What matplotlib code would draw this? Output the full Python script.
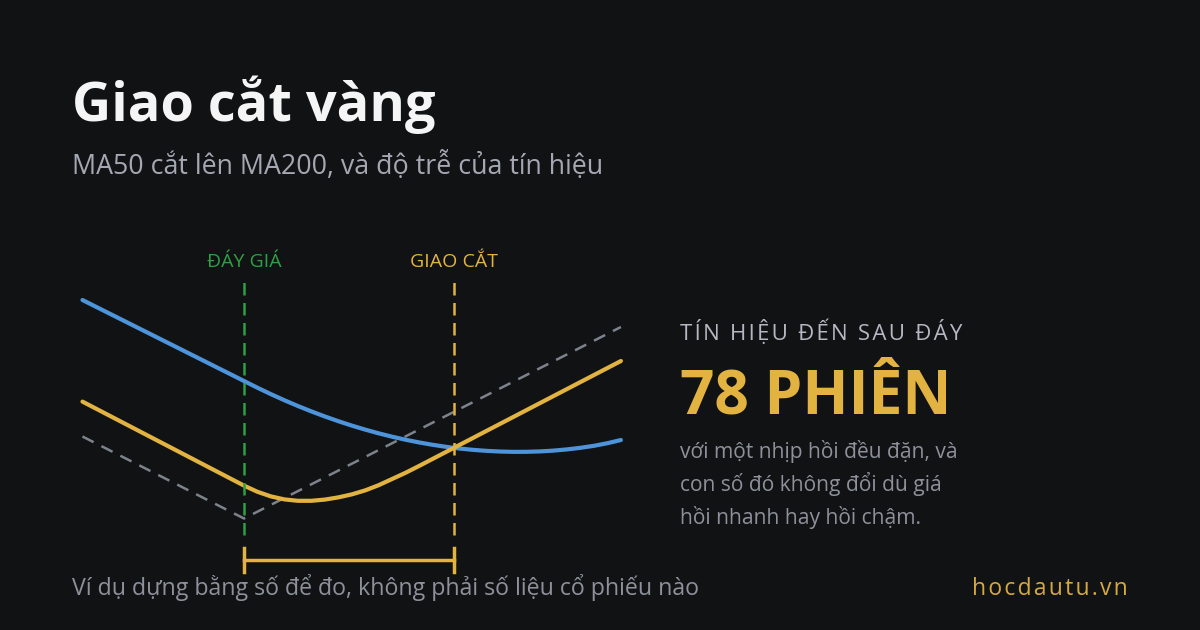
import matplotlib.pyplot as plt

plt.rcParams["font.family"] = ["Open Sans", "DejaVu Sans"]

BG = "#111214"
BLUE = "#4d94db"
GOLD = "#e3b341"
GREEN = "#2ea043"
GRAY = "#7d838c"

# phiên (0 = đáy giá), giá trị minh hoạ
sessions = [-60, -55, -50, -45, -40, -35, -30, -25, -20, -15, -10, -5, 0, 5, 10, 15, 20, 25, 30,
            35, 40, 45, 50, 55, 60, 65, 70, 75, 80, 85, 90, 95, 100, 105, 110, 115, 120, 125,
            130, 135, 140]
ma200 = [160, 156.63, 153.25, 149.88, 146.5, 143.13, 139.75, 136.38, 133, 129.63, 126.25,
         122.88, 119.5, 116.13, 112.92, 109.88, 107.01, 104.31, 101.78, 99.42, 97.22, 95.2,
         93.34, 91.66, 90.14, 88.79, 87.61, 86.6, 85.75, 85.08, 84.58, 84.24, 84.07, 84.1,
         84.3, 84.7, 85.3, 86.1, 87.1, 88.4, 90.0]
ma50 = [109.2, 105.7, 102.2, 98.7, 95.2, 91.7, 88.2, 84.7, 81.2, 77.7, 74.2, 70.7, 67.2, 64.1,
        61.8, 60.3, 59.6, 59.6, 60.2, 61.3, 62.8, 64.8, 67.4, 70.5, 73.6, 77.0, 80.5, 84.0,
        87.5, 91.0, 94.5, 98.0, 101.5, 105.0, 108.5, 112.0, 115.5, 119.0, 122.5, 126.0, 129.5]
price_x = [-60, 0, 140]
price_y = [91.75, 50.75, 146.5]

bottom_day = 0
cross_day = 78

HAIR = "\u200a"


def spaced(s):
    return HAIR.join(s)


fig = plt.figure(figsize=(12, 6.3), dpi=100, facecolor=BG)
ax = fig.add_axes([0, 0, 1, 1])
ax.set_facecolor(BG)
ax.set_xlim(-244 / 2.6923, (1200 - 244) / 2.6923)
ax.set_ylim(-5, 310)
ax.axis("off")

ax.plot(price_x, price_y, color=GRAY, lw=1.8, dashes=(5, 3.5))
ax.plot(sessions, ma200, color=BLUE, lw=3, solid_capstyle="round")
ax.plot(sessions, ma50, color=GOLD, lw=3, solid_capstyle="round")

ax.plot([bottom_day, bottom_day], [42.5, 171.5], color=GREEN, lw=1.8, dashes=(5, 3))
ax.plot([cross_day, cross_day], [42.5, 171.5], color=GOLD, lw=1.8, dashes=(5, 3))
ax.text(bottom_day, 179, "ĐÁY GIÁ", color=GREEN, fontsize=14, ha="center", va="center")
ax.text(cross_day, 179, "GIAO CẮT", color=GOLD, fontsize=14, ha="center", va="center")

# khoảng trễ
ax.plot([bottom_day, cross_day], [30, 30], color=GOLD, lw=2.5)
ax.plot([bottom_day, bottom_day], [24, 36], color=GOLD, lw=2.5)
ax.plot([cross_day, cross_day], [24, 36], color=GOLD, lw=2.5)

fig.text(72 / 1200, 1 - 121 / 630, "Giao cắt vàng", color="#f5f5f5", fontsize=39,
         fontweight="bold", va="baseline")
fig.text(72 / 1200, 1 - 174 / 630, "MA50 cắt lên MA200, và độ trễ của tín hiệu",
         color="#a3a8b3", fontsize=19.3, va="baseline")

fig.text(680 / 1200, 1 - 340 / 630, spaced("TÍN HIỆU ĐẾN SAU ĐÁY"), color="#b3b8c2",
         fontsize=16, va="baseline")
fig.text(680 / 1200, 1 - 413 / 630, "78 PHIÊN", color=GOLD, fontsize=43.5,
         fontweight="bold", va="baseline")
lines = ["với một nhịp hồi đều đặn, và", "con số đó không đổi dù giá", "hồi nhanh hay hồi chậm."]
for i, s in enumerate(lines):
    fig.text(680 / 1200, 1 - (458 + 33 * i) / 630, s, color="#8c919b", fontsize=15.1,
             va="baseline")

fig.text(72 / 1200, 1 - 595 / 630, "Ví dụ dựng bằng số để đo, không phải số liệu cổ phiếu nào",
         color="#8c919b", fontsize=16.7, va="baseline")
fig.text(1128 / 1200, 1 - 595 / 630, spaced("hocdautu.vn"), color="#d4a940", fontsize=16.5,
         ha="right", va="baseline")

fig.savefig("out.png", dpi=100, facecolor=BG)
